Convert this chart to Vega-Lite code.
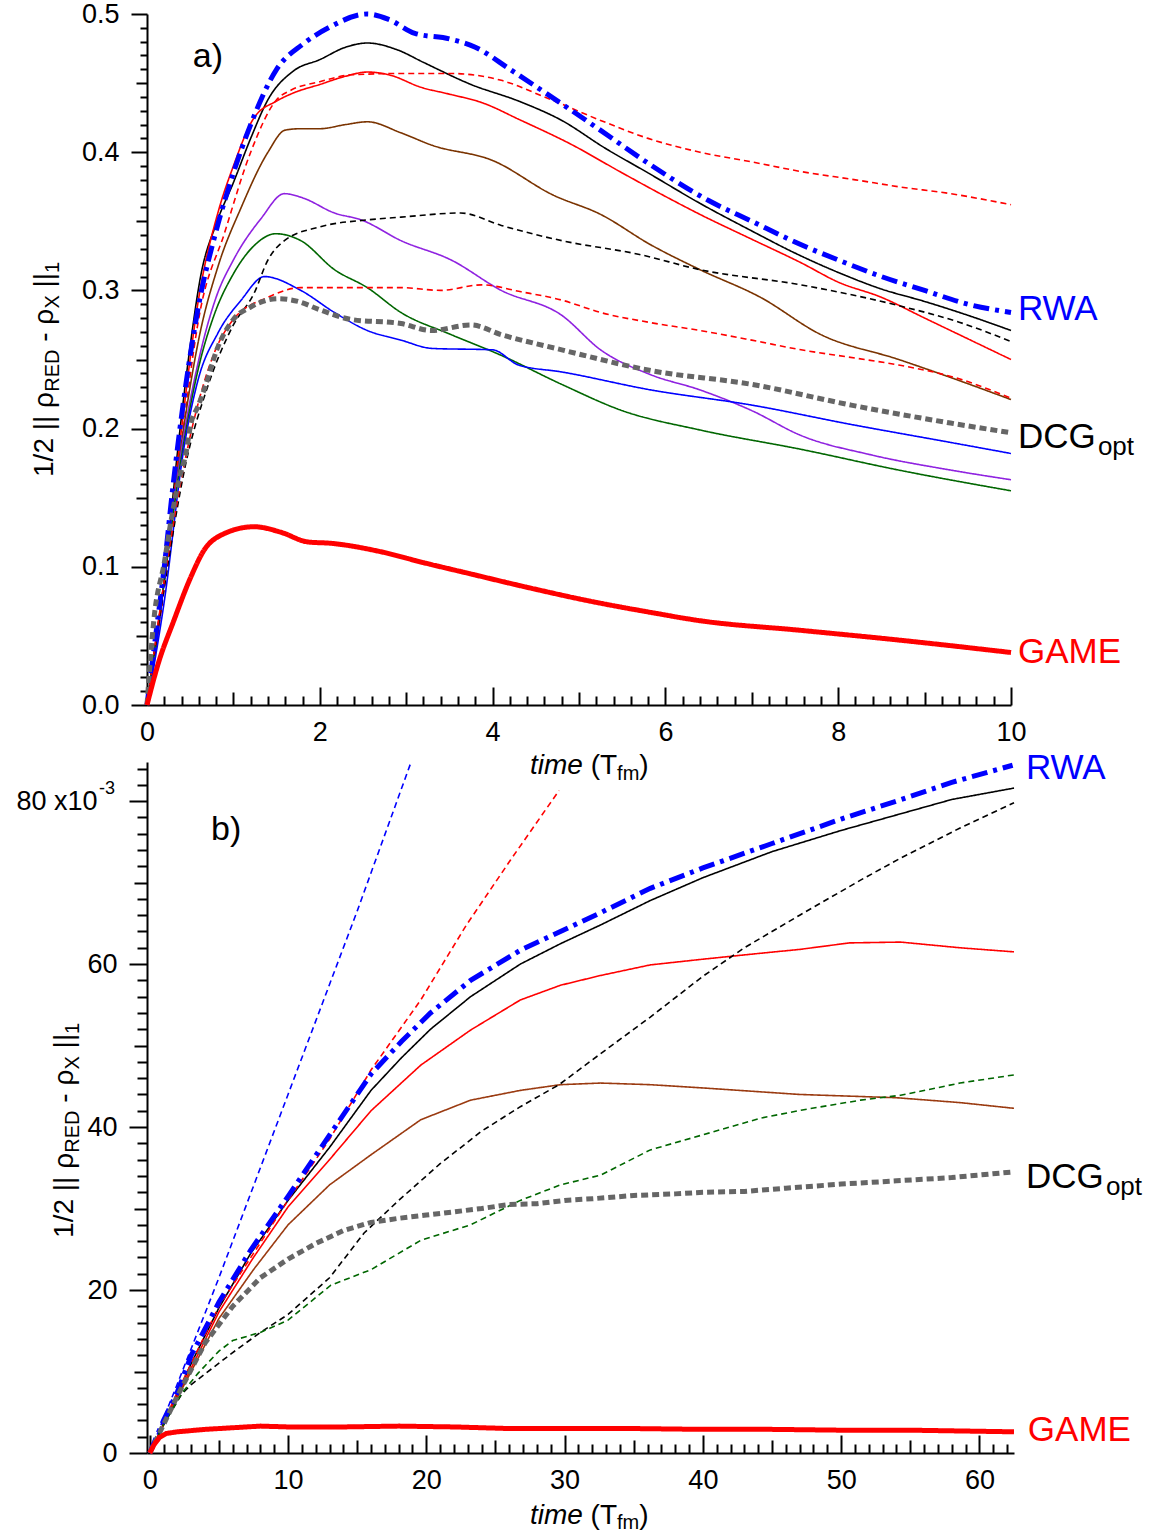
{
"$schema": "https://vega.github.io/schema/vega-lite/v6.json",
"padding": {"left": 15, "top": 0, "right": 5, "bottom": 0},
"config": {
  "font": "Liberation Sans",
  "view": {"stroke": null},
  "axis": {"grid": false, "domainColor": "black", "domainWidth": 2, "tickColor": "black", "tickWidth": 2, "labelColor": "black", "labelFont": "Liberation Sans", "labelFontSize": 27, "labelOverlap": false, "labelFlush": false, "title": null, "tickCount": 200}
},
"spacing": 57,
"bounds": "flush",
"resolve": {"scale": {"color": "independent", "strokeDash": "independent"}},
"datasets": {
"a": [
{"s":"blk","t":0,"v":0},{"s":"blk","t":0.1,"v":0.04},{"s":"blk","t":0.2,"v":0.09},{"s":"blk","t":0.36,"v":0.187},{"s":"blk","t":0.5,"v":0.26},{"s":"blk","t":0.62,"v":0.31},{"s":"blk","t":0.8,"v":0.348},{"s":"blk","t":1.0,"v":0.378},{"s":"blk","t":1.2,"v":0.41},{"s":"blk","t":1.4,"v":0.438},{"s":"blk","t":1.7,"v":0.459},{"s":"blk","t":2.0,"v":0.467},{"s":"blk","t":2.3,"v":0.476},{"s":"blk","t":2.55,"v":0.479},{"s":"blk","t":2.9,"v":0.474},{"s":"blk","t":3.2,"v":0.465},{"s":"blk","t":3.75,"v":0.449},{"s":"blk","t":4.3,"v":0.437},{"s":"blk","t":4.8,"v":0.423},{"s":"blk","t":5.3,"v":0.403},{"s":"blk","t":5.8,"v":0.385},{"s":"blk","t":6.4,"v":0.363},{"s":"blk","t":7.0,"v":0.343},{"s":"blk","t":7.5,"v":0.327},{"s":"blk","t":8.0,"v":0.313},{"s":"blk","t":8.5,"v":0.301},{"s":"blk","t":9.0,"v":0.292},{"s":"blk","t":9.5,"v":0.282},{"s":"blk","t":10,"v":0.271},
{"s":"red","t":0,"v":0},{"s":"red","t":0.1,"v":0.045},{"s":"red","t":0.2,"v":0.09},{"s":"red","t":0.4,"v":0.2},{"s":"red","t":0.6,"v":0.295},{"s":"red","t":0.82,"v":0.356},{"s":"red","t":1.0,"v":0.39},{"s":"red","t":1.24,"v":0.425},{"s":"red","t":1.5,"v":0.437},{"s":"red","t":1.7,"v":0.443},{"s":"red","t":2.0,"v":0.449},{"s":"red","t":2.3,"v":0.455},{"s":"red","t":2.55,"v":0.458},{"s":"red","t":2.8,"v":0.456},{"s":"red","t":3.17,"v":0.447},{"s":"red","t":3.5,"v":0.442},{"s":"red","t":3.87,"v":0.436},{"s":"red","t":4.33,"v":0.423},{"s":"red","t":4.9,"v":0.406},{"s":"red","t":5.5,"v":0.385},{"s":"red","t":6.0,"v":0.368},{"s":"red","t":6.4,"v":0.355},{"s":"red","t":7.0,"v":0.337},{"s":"red","t":7.57,"v":0.32},{"s":"red","t":8.0,"v":0.306},{"s":"red","t":8.5,"v":0.295},{"s":"red","t":9.0,"v":0.28},{"s":"red","t":9.5,"v":0.265},{"s":"red","t":10,"v":0.25},
{"s":"redd1","t":0,"v":0},{"s":"redd1","t":0.2,"v":0.085},{"s":"redd1","t":0.4,"v":0.19},{"s":"redd1","t":0.6,"v":0.28},{"s":"redd1","t":0.9,"v":0.342},{"s":"redd1","t":1.2,"v":0.4},{"s":"redd1","t":1.5,"v":0.438},{"s":"redd1","t":1.67,"v":0.445},{"s":"redd1","t":2.0,"v":0.451},{"s":"redd1","t":2.36,"v":0.456},{"s":"redd1","t":3.0,"v":0.457},{"s":"redd1","t":3.5,"v":0.457},{"s":"redd1","t":4.1,"v":0.452},{"s":"redd1","t":4.6,"v":0.44},{"s":"redd1","t":5.25,"v":0.423},{"s":"redd1","t":5.8,"v":0.41},{"s":"redd1","t":6.4,"v":0.4},{"s":"redd1","t":7.0,"v":0.393},{"s":"redd1","t":7.57,"v":0.386},{"s":"redd1","t":8.2,"v":0.38},{"s":"redd1","t":8.7,"v":0.375},{"s":"redd1","t":9.3,"v":0.37},{"s":"redd1","t":10,"v":0.362},
{"s":"brn","t":0,"v":0},{"s":"brn","t":0.2,"v":0.09},{"s":"brn","t":0.4,"v":0.19},{"s":"brn","t":0.6,"v":0.265},{"s":"brn","t":0.82,"v":0.317},{"s":"brn","t":1.09,"v":0.36},{"s":"brn","t":1.4,"v":0.4},{"s":"brn","t":1.6,"v":0.416},{"s":"brn","t":1.78,"v":0.417},{"s":"brn","t":2.0,"v":0.417},{"s":"brn","t":2.3,"v":0.42},{"s":"brn","t":2.55,"v":0.422},{"s":"brn","t":2.94,"v":0.414},{"s":"brn","t":3.3,"v":0.405},{"s":"brn","t":4.0,"v":0.394},{"s":"brn","t":4.7,"v":0.369},{"s":"brn","t":5.25,"v":0.355},{"s":"brn","t":5.83,"v":0.333},{"s":"brn","t":6.4,"v":0.315},{"s":"brn","t":7.1,"v":0.295},{"s":"brn","t":7.8,"v":0.268},{"s":"brn","t":8.7,"v":0.25},{"s":"brn","t":9.3,"v":0.237},{"s":"brn","t":10,"v":0.221},
{"s":"pur","t":0,"v":0},{"s":"pur","t":0.2,"v":0.09},{"s":"pur","t":0.4,"v":0.185},{"s":"pur","t":0.6,"v":0.25},{"s":"pur","t":0.8,"v":0.295},{"s":"pur","t":1.0,"v":0.322},{"s":"pur","t":1.32,"v":0.352},{"s":"pur","t":1.59,"v":0.37},{"s":"pur","t":1.8,"v":0.367},{"s":"pur","t":2.17,"v":0.356},{"s":"pur","t":2.48,"v":0.351},{"s":"pur","t":2.94,"v":0.336},{"s":"pur","t":3.52,"v":0.322},{"s":"pur","t":4.1,"v":0.3},{"s":"pur","t":4.8,"v":0.282},{"s":"pur","t":5.25,"v":0.257},{"s":"pur","t":5.83,"v":0.239},{"s":"pur","t":6.4,"v":0.228},{"s":"pur","t":7.0,"v":0.213},{"s":"pur","t":7.57,"v":0.195},{"s":"pur","t":8.38,"v":0.181},{"s":"pur","t":9.3,"v":0.17},{"s":"pur","t":10,"v":0.163},
{"s":"grn","t":0,"v":0},{"s":"grn","t":0.2,"v":0.09},{"s":"grn","t":0.4,"v":0.18},{"s":"grn","t":0.6,"v":0.245},{"s":"grn","t":0.77,"v":0.281},{"s":"grn","t":1.0,"v":0.312},{"s":"grn","t":1.25,"v":0.333},{"s":"grn","t":1.49,"v":0.341},{"s":"grn","t":1.78,"v":0.336},{"s":"grn","t":2.17,"v":0.315},{"s":"grn","t":2.55,"v":0.302},{"s":"grn","t":2.94,"v":0.284},{"s":"grn","t":3.52,"v":0.268},{"s":"grn","t":4.1,"v":0.253},{"s":"grn","t":4.8,"v":0.232},{"s":"grn","t":5.5,"v":0.213},{"s":"grn","t":6.4,"v":0.199},{"s":"grn","t":7.57,"v":0.185},{"s":"grn","t":8.7,"v":0.17},{"s":"grn","t":10,"v":0.155},
{"s":"blu","t":0,"v":0},{"s":"blu","t":0.2,"v":0.075},{"s":"blu","t":0.43,"v":0.187},{"s":"blu","t":0.59,"v":0.235},{"s":"blu","t":0.82,"v":0.269},{"s":"blu","t":1.09,"v":0.293},{"s":"blu","t":1.36,"v":0.31},{"s":"blu","t":1.78,"v":0.3},{"s":"blu","t":2.17,"v":0.284},{"s":"blu","t":2.55,"v":0.271},{"s":"blu","t":2.94,"v":0.264},{"s":"blu","t":3.3,"v":0.258},{"s":"blu","t":4.0,"v":0.257},{"s":"blu","t":4.3,"v":0.246},{"s":"blu","t":4.8,"v":0.241},{"s":"blu","t":5.83,"v":0.228},{"s":"blu","t":7.0,"v":0.217},{"s":"blu","t":8.15,"v":0.203},{"s":"blu","t":9.3,"v":0.19},{"s":"blu","t":10,"v":0.182},
{"s":"blkd","t":0,"v":0},{"s":"blkd","t":0.2,"v":0.085},{"s":"blkd","t":0.45,"v":0.175},{"s":"blkd","t":0.7,"v":0.23},{"s":"blkd","t":1.0,"v":0.275},{"s":"blkd","t":1.24,"v":0.298},{"s":"blkd","t":1.4,"v":0.322},{"s":"blkd","t":1.59,"v":0.336},{"s":"blkd","t":2.0,"v":0.346},{"s":"blkd","t":2.55,"v":0.351},{"s":"blkd","t":2.94,"v":0.353},{"s":"blkd","t":3.63,"v":0.356},{"s":"blkd","t":4.1,"v":0.347},{"s":"blkd","t":4.8,"v":0.336},{"s":"blkd","t":5.7,"v":0.326},{"s":"blkd","t":6.4,"v":0.315},{"s":"blkd","t":7.57,"v":0.304},{"s":"blkd","t":8.7,"v":0.289},{"s":"blkd","t":9.4,"v":0.277},{"s":"blkd","t":10,"v":0.263},
{"s":"redd2","t":0,"v":0},{"s":"redd2","t":0.2,"v":0.09},{"s":"redd2","t":0.45,"v":0.18},{"s":"redd2","t":0.78,"v":0.255},{"s":"redd2","t":1.0,"v":0.279},{"s":"redd2","t":1.4,"v":0.295},{"s":"redd2","t":1.78,"v":0.302},{"s":"redd2","t":2.2,"v":0.302},{"s":"redd2","t":2.55,"v":0.302},{"s":"redd2","t":2.94,"v":0.302},{"s":"redd2","t":3.4,"v":0.3},{"s":"redd2","t":3.87,"v":0.304},{"s":"redd2","t":4.33,"v":0.299},{"s":"redd2","t":4.8,"v":0.293},{"s":"redd2","t":5.25,"v":0.284},{"s":"redd2","t":5.8,"v":0.277},{"s":"redd2","t":6.4,"v":0.271},{"s":"redd2","t":7.0,"v":0.264},{"s":"redd2","t":7.57,"v":0.257},{"s":"redd2","t":8.2,"v":0.251},{"s":"redd2","t":8.7,"v":0.246},{"s":"redd2","t":9.4,"v":0.236},{"s":"redd2","t":10,"v":0.222},
{"s":"rwa","t":0,"v":0},{"s":"rwa","t":0.1,"v":0.05},{"s":"rwa","t":0.2,"v":0.1},{"s":"rwa","t":0.3,"v":0.158},{"s":"rwa","t":0.45,"v":0.232},{"s":"rwa","t":0.6,"v":0.29},{"s":"rwa","t":0.8,"v":0.343},{"s":"rwa","t":1.0,"v":0.385},{"s":"rwa","t":1.2,"v":0.42},{"s":"rwa","t":1.5,"v":0.46},{"s":"rwa","t":1.8,"v":0.478},{"s":"rwa","t":2.1,"v":0.49},{"s":"rwa","t":2.55,"v":0.5},{"s":"rwa","t":2.8,"v":0.496},{"s":"rwa","t":3.1,"v":0.486},{"s":"rwa","t":3.5,"v":0.482},{"s":"rwa","t":3.8,"v":0.476},{"s":"rwa","t":4.2,"v":0.46},{"s":"rwa","t":4.8,"v":0.435},{"s":"rwa","t":5.2,"v":0.418},{"s":"rwa","t":5.8,"v":0.392},{"s":"rwa","t":6.5,"v":0.365},{"s":"rwa","t":7.0,"v":0.35},{"s":"rwa","t":7.5,"v":0.335},{"s":"rwa","t":8.0,"v":0.322},{"s":"rwa","t":8.5,"v":0.31},{"s":"rwa","t":9.0,"v":0.3},{"s":"rwa","t":9.5,"v":0.29},{"s":"rwa","t":10,"v":0.284},
{"s":"dcg","t":0,"v":0},{"s":"dcg","t":0.08,"v":0.062},{"s":"dcg","t":0.2,"v":0.103},{"s":"dcg","t":0.28,"v":0.134},{"s":"dcg","t":0.37,"v":0.163},{"s":"dcg","t":0.45,"v":0.182},{"s":"dcg","t":0.51,"v":0.204},{"s":"dcg","t":0.59,"v":0.216},{"s":"dcg","t":0.66,"v":0.228},{"s":"dcg","t":0.82,"v":0.259},{"s":"dcg","t":1.0,"v":0.279},{"s":"dcg","t":1.2,"v":0.288},{"s":"dcg","t":1.52,"v":0.294},{"s":"dcg","t":1.75,"v":0.292},{"s":"dcg","t":2.0,"v":0.286},{"s":"dcg","t":2.36,"v":0.279},{"s":"dcg","t":2.94,"v":0.276},{"s":"dcg","t":3.29,"v":0.271},{"s":"dcg","t":3.75,"v":0.275},{"s":"dcg","t":4.1,"v":0.268},{"s":"dcg","t":4.8,"v":0.257},{"s":"dcg","t":5.83,"v":0.242},{"s":"dcg","t":7.0,"v":0.232},{"s":"dcg","t":8.15,"v":0.217},{"s":"dcg","t":9.3,"v":0.204},{"s":"dcg","t":10,"v":0.197},
{"s":"game","t":0,"v":0},{"s":"game","t":0.13,"v":0.03},{"s":"game","t":0.31,"v":0.061},{"s":"game","t":0.51,"v":0.093},{"s":"game","t":0.66,"v":0.112},{"s":"game","t":0.86,"v":0.123},{"s":"game","t":1.24,"v":0.129},{"s":"game","t":1.55,"v":0.125},{"s":"game","t":1.86,"v":0.118},{"s":"game","t":2.13,"v":0.117},{"s":"game","t":2.7,"v":0.111},{"s":"game","t":3.2,"v":0.103},{"s":"game","t":3.67,"v":0.096},{"s":"game","t":4.41,"v":0.085},{"s":"game","t":5.14,"v":0.075},{"s":"game","t":5.83,"v":0.067},{"s":"game","t":6.4,"v":0.061},{"s":"game","t":7.57,"v":0.054},{"s":"game","t":8.7,"v":0.047},{"s":"game","t":10,"v":0.038}
],
"b": [
{"s":"blk","t":0,"v":0},{"s":"blk","t":1,"v":3.5},{"s":"blk","t":3,"v":11},{"s":"blk","t":5,"v":17.8},{"s":"blk","t":7.3,"v":24.5},{"s":"blk","t":10,"v":31},{"s":"blk","t":13,"v":37.5},{"s":"blk","t":16,"v":44.5},{"s":"blk","t":18.2,"v":48.5},{"s":"blk","t":20.3,"v":52},{"s":"blk","t":23.2,"v":56},{"s":"blk","t":26.8,"v":60},{"s":"blk","t":29.7,"v":62.5},{"s":"blk","t":32.6,"v":64.8},{"s":"blk","t":36.2,"v":67.8},{"s":"blk","t":40,"v":70.6},{"s":"blk","t":45,"v":73.8},{"s":"blk","t":50,"v":76.4},{"s":"blk","t":54,"v":78.3},{"s":"blk","t":58,"v":80.2},{"s":"blk","t":62.5,"v":81.6},
{"s":"red","t":0,"v":0},{"s":"red","t":2,"v":7},{"s":"red","t":5,"v":17.3},{"s":"red","t":7.5,"v":24},{"s":"red","t":10,"v":30.2},{"s":"red","t":13,"v":36},{"s":"red","t":16,"v":42},{"s":"red","t":19.6,"v":47.6},{"s":"red","t":23.2,"v":51.9},{"s":"red","t":26.8,"v":55.6},{"s":"red","t":29.7,"v":57.4},{"s":"red","t":32.6,"v":58.6},{"s":"red","t":36.2,"v":59.9},{"s":"red","t":40,"v":60.6},{"s":"red","t":44,"v":61.3},{"s":"red","t":47,"v":61.8},{"s":"red","t":50.6,"v":62.6},{"s":"red","t":54.3,"v":62.7},{"s":"red","t":58.6,"v":62.0},{"s":"red","t":62.5,"v":61.5},
{"s":"brn","t":0,"v":0},{"s":"brn","t":2,"v":6.8},{"s":"brn","t":5,"v":16.5},{"s":"brn","t":7.5,"v":22.5},{"s":"brn","t":10,"v":28},{"s":"brn","t":13,"v":32.9},{"s":"brn","t":16,"v":36.6},{"s":"brn","t":19.6,"v":40.9},{"s":"brn","t":23.2,"v":43.3},{"s":"brn","t":26.8,"v":44.5},{"s":"brn","t":29.7,"v":45.2},{"s":"brn","t":32.6,"v":45.4},{"s":"brn","t":36.2,"v":45.2},{"s":"brn","t":40,"v":44.8},{"s":"brn","t":47,"v":44},{"s":"brn","t":54,"v":43.6},{"s":"brn","t":58.6,"v":43},{"s":"brn","t":62.5,"v":42.3},
{"s":"redd","t":0,"v":0},{"s":"redd","t":2,"v":7.5},{"s":"redd","t":5,"v":18},{"s":"redd","t":7.5,"v":24.5},{"s":"redd","t":10,"v":31},{"s":"redd","t":13,"v":38.5},{"s":"redd","t":16,"v":47},{"s":"redd","t":19.6,"v":55.6},{"s":"redd","t":22.9,"v":64.8},{"s":"redd","t":26.1,"v":72.8},{"s":"redd","t":29.6,"v":81.3},
{"s":"blud","t":0,"v":0},{"s":"blud","t":2,"v":8.5},{"s":"blud","t":5,"v":21.5},{"s":"blud","t":8,"v":35},{"s":"blud","t":10,"v":44},{"s":"blud","t":12,"v":53},{"s":"blud","t":15,"v":66.5},{"s":"blud","t":18.9,"v":84.8},
{"s":"blkd","t":0,"v":0},{"s":"blkd","t":1,"v":3.5},{"s":"blkd","t":2.3,"v":7.2},{"s":"blkd","t":3,"v":8.4},{"s":"blkd","t":5.9,"v":12.2},{"s":"blkd","t":8,"v":14.8},{"s":"blkd","t":10,"v":17},{"s":"blkd","t":13,"v":21.5},{"s":"blkd","t":15.5,"v":27},{"s":"blkd","t":18,"v":31},{"s":"blkd","t":21,"v":35.5},{"s":"blkd","t":24,"v":39.5},{"s":"blkd","t":26.8,"v":42.5},{"s":"blkd","t":29.6,"v":45.2},{"s":"blkd","t":32.6,"v":49},{"s":"blkd","t":36.2,"v":53.5},{"s":"blkd","t":40,"v":58.5},{"s":"blkd","t":43,"v":62},{"s":"blkd","t":47,"v":66},{"s":"blkd","t":51.4,"v":70.3},{"s":"blkd","t":54.3,"v":73},{"s":"blkd","t":58.6,"v":76.7},{"s":"blkd","t":62.5,"v":79.8},
{"s":"grnd","t":0,"v":0},{"s":"grnd","t":1,"v":3.5},{"s":"grnd","t":2.3,"v":7.3},{"s":"grnd","t":3.5,"v":9.8},{"s":"grnd","t":5,"v":12.5},{"s":"grnd","t":6,"v":13.8},{"s":"grnd","t":8,"v":14.8},{"s":"grnd","t":10,"v":16.3},{"s":"grnd","t":13.1,"v":20.6},{"s":"grnd","t":16,"v":22.5},{"s":"grnd","t":19.6,"v":26.1},{"s":"grnd","t":23.2,"v":28},{"s":"grnd","t":26.8,"v":31},{"s":"grnd","t":29.7,"v":32.9},{"s":"grnd","t":32.6,"v":34.1},{"s":"grnd","t":36.2,"v":37.2},{"s":"grnd","t":39.9,"v":39},{"s":"grnd","t":44.2,"v":41.1},{"s":"grnd","t":47.2,"v":42.1},{"s":"grnd","t":51.4,"v":43.3},{"s":"grnd","t":54.3,"v":43.9},{"s":"grnd","t":58.6,"v":45.4},{"s":"grnd","t":62.5,"v":46.4},
{"s":"rwa","t":0,"v":0},{"s":"rwa","t":1,"v":4},{"s":"rwa","t":2,"v":7.5},{"s":"rwa","t":3,"v":12},{"s":"rwa","t":5,"v":18.5},{"s":"rwa","t":7.3,"v":24.9},{"s":"rwa","t":10,"v":31.5},{"s":"rwa","t":13,"v":39},{"s":"rwa","t":16,"v":46.5},{"s":"rwa","t":18.2,"v":50.5},{"s":"rwa","t":20.3,"v":54},{"s":"rwa","t":23.2,"v":58},{"s":"rwa","t":26.8,"v":61.7},{"s":"rwa","t":29.7,"v":64},{"s":"rwa","t":32.6,"v":66.3},{"s":"rwa","t":36.2,"v":69.3},{"s":"rwa","t":40,"v":71.8},{"s":"rwa","t":45,"v":74.8},{"s":"rwa","t":50,"v":77.8},{"s":"rwa","t":54,"v":80},{"s":"rwa","t":58,"v":82.3},{"s":"rwa","t":62.4,"v":84.4},
{"s":"dcg","t":0,"v":0},{"s":"dcg","t":2,"v":7},{"s":"dcg","t":4,"v":13.5},{"s":"dcg","t":6,"v":18},{"s":"dcg","t":8,"v":21.5},{"s":"dcg","t":10,"v":23.8},{"s":"dcg","t":12,"v":25.7},{"s":"dcg","t":14,"v":27.3},{"s":"dcg","t":16,"v":28.3},{"s":"dcg","t":18,"v":28.8},{"s":"dcg","t":20,"v":29.2},{"s":"dcg","t":22,"v":29.6},{"s":"dcg","t":24,"v":30},{"s":"dcg","t":26,"v":30.5},{"s":"dcg","t":28,"v":30.6},{"s":"dcg","t":30,"v":31},{"s":"dcg","t":32,"v":31.2},{"s":"dcg","t":35,"v":31.6},{"s":"dcg","t":38,"v":31.8},{"s":"dcg","t":40,"v":32},{"s":"dcg","t":43,"v":32.1},{"s":"dcg","t":46,"v":32.5},{"s":"dcg","t":50,"v":33},{"s":"dcg","t":54,"v":33.4},{"s":"dcg","t":58,"v":33.8},{"s":"dcg","t":62.5,"v":34.5},
{"s":"game","t":0,"v":0},{"s":"game","t":0.3,"v":1.0},{"s":"game","t":0.7,"v":1.9},{"s":"game","t":1.2,"v":2.4},{"s":"game","t":2,"v":2.6},{"s":"game","t":4,"v":2.9},{"s":"game","t":6,"v":3.1},{"s":"game","t":8,"v":3.3},{"s":"game","t":10,"v":3.2},{"s":"game","t":14,"v":3.2},{"s":"game","t":18,"v":3.3},{"s":"game","t":22,"v":3.2},{"s":"game","t":26,"v":3.0},{"s":"game","t":30,"v":3.0},{"s":"game","t":35,"v":3.0},{"s":"game","t":40,"v":2.9},{"s":"game","t":45,"v":2.9},{"s":"game","t":50,"v":2.8},{"s":"game","t":55,"v":2.8},{"s":"game","t":62.5,"v":2.6}
]
},
"vconcat": [
{
  "width": 864, "height": 691,
  "layer": [
    {
      "data": {"name": "a"},
      "transform": [{"filter": {"not": {"field": "s", "oneOf": ["rwa", "dcg", "game"]}}}],
      "mark": {"type": "line", "interpolate": "monotone", "strokeWidth": 1.6},
      "encoding": {
        "x": {"field": "t", "type": "quantitative", "scale": {"domain": [0, 10], "nice": false, "zero": false},
          "axis": {"orient": "bottom", "tickCount": 200, "values": [0,0.2,0.4,0.6,0.8,1,1.2,1.4,1.6,1.8,2,2.2,2.4,2.6,2.8,3,3.2,3.4,3.6,3.8,4,4.2,4.4,4.6,4.8,5,5.2,5.4,5.6,5.8,6,6.2,6.4,6.6,6.8,7,7.2,7.4,7.6,7.8,8,8.2,8.4,8.6,8.8,9,9.2,9.4,9.6,9.8,10],
            "labelExpr": "datum.value % 2 == 0 ? '' + datum.value : ''",
            "tickSize": {"condition": [{"test": "datum.value % 2 == 0", "value": -18}, {"test": "datum.value % 1 == 0", "value": -13}], "value": -9},
            "labelPadding": 32}},
        "y": {"field": "v", "type": "quantitative", "scale": {"domain": [0, 0.5], "nice": false},
          "axis": {"orient": "left", "tickCount": 200, "values": [0,0.01,0.02,0.03,0.04,0.05,0.06,0.07,0.08,0.09,0.1,0.11,0.12,0.13,0.14,0.15,0.16,0.17,0.18,0.19,0.2,0.21,0.22,0.23,0.24,0.25,0.26,0.27,0.28,0.29,0.3,0.31,0.32,0.33,0.34,0.35,0.36,0.37,0.38,0.39,0.4,0.41,0.42,0.43,0.44,0.45,0.46,0.47,0.48,0.49,0.5],
            "format": ".1f",
            "labelExpr": "abs(datum.value*10 - round(datum.value*10)) < 1e-6 ? datum.label : ''",
            "tickSize": {"condition": [{"test": "abs(datum.value*10 - round(datum.value*10)) < 1e-6", "value": 16}, {"test": "abs(datum.value*20 - round(datum.value*20)) < 1e-6", "value": 11}], "value": 7},
            "labelPadding": 12}},
        "color": {"field": "s", "type": "nominal", "legend": null,
          "scale": {"domain": ["blk","red","redd1","brn","pur","grn","blu","blkd","redd2","rwa","dcg","game"],
                    "range": ["#000000","#ff0000","#ff0000","#7a3300","#8f22e0","#006600","#0000ff","#000000","#ff0000","#0000ff","#666666","#ff0000"]}},
        "strokeDash": {"field": "s", "type": "nominal", "legend": null,
          "scale": {"domain": ["blk","red","redd1","brn","pur","grn","blu","blkd","redd2","rwa","dcg","game"],
                    "range": [[1,0],[1,0],[6,4],[1,0],[1,0],[1,0],[1,0],[6,4],[6,4],[16,6,4,6],[7,4],[1,0]]}}
      }
    },
    {
      "data": {"name": "a"},
      "transform": [{"filter": {"field": "s", "oneOf": ["rwa", "dcg", "game"]}}],
      "mark": {"type": "line", "interpolate": "monotone", "strokeWidth": 5},
      "encoding": {
        "x": {"field": "t", "type": "quantitative"},
        "y": {"field": "v", "type": "quantitative"},
        "color": {"field": "s", "type": "nominal", "legend": null},
        "strokeDash": {"field": "s", "type": "nominal", "legend": null}
      }
    },
    {"data": {"values": [{}]}, "mark": {"type": "text", "text": "a)", "fontSize": 34, "align": "left", "baseline": "alphabetic", "color": "black"},
     "encoding": {"x": {"datum": 0.53, "type": "quantitative"}, "y": {"datum": 0.4617, "type": "quantitative"}}},
    {"data": {"values": [{}]}, "mark": {"type": "text", "text": "RWA", "fontSize": 35, "align": "left", "baseline": "alphabetic", "color": "#0000ff"},
     "encoding": {"x": {"datum": 10.08, "type": "quantitative"}, "y": {"datum": 0.2786, "type": "quantitative"}}},
    {"data": {"values": [{}]}, "mark": {"type": "text", "text": "DCG", "fontSize": 35, "align": "left", "baseline": "alphabetic", "color": "black"},
     "encoding": {"x": {"datum": 10.08, "type": "quantitative"}, "y": {"datum": 0.186, "type": "quantitative"}}},
    {"data": {"values": [{}]}, "mark": {"type": "text", "text": "opt", "fontSize": 26, "align": "left", "baseline": "alphabetic", "color": "black", "dx": 80, "dy": 7},
     "encoding": {"x": {"datum": 10.08, "type": "quantitative"}, "y": {"datum": 0.186, "type": "quantitative"}}},
    {"data": {"values": [{}]}, "mark": {"type": "text", "text": "GAME", "fontSize": 35, "align": "left", "baseline": "alphabetic", "color": "#ff0000"},
     "encoding": {"x": {"datum": 10.08, "type": "quantitative"}, "y": {"datum": 0.0304, "type": "quantitative"}}},
    {"data": {"values": [{}]}, "mark": {"type": "text", "text": "1/2 || ρ", "fontSize": 28, "angle": 270, "align": "left", "baseline": "alphabetic", "color": "black"},
     "encoding": {"x": {"datum": -1.088, "type": "quantitative"}, "y": {"datum": 0.165, "type": "quantitative"}}},
    {"data": {"values": [{}]}, "mark": {"type": "text", "text": "RED", "fontSize": 20, "angle": 270, "align": "left", "baseline": "alphabetic", "color": "black", "dx": 85.2, "dy": 6},
     "encoding": {"x": {"datum": -1.088, "type": "quantitative"}, "y": {"datum": 0.165, "type": "quantitative"}}},
    {"data": {"values": [{}]}, "mark": {"type": "text", "text": "- ρ", "fontSize": 28, "angle": 270, "align": "left", "baseline": "alphabetic", "color": "black", "dx": 135.2},
     "encoding": {"x": {"datum": -1.088, "type": "quantitative"}, "y": {"datum": 0.165, "type": "quantitative"}}},
    {"data": {"values": [{}]}, "mark": {"type": "text", "text": "X", "fontSize": 20, "angle": 270, "align": "left", "baseline": "alphabetic", "color": "black", "dx": 168.4, "dy": 6},
     "encoding": {"x": {"datum": -1.088, "type": "quantitative"}, "y": {"datum": 0.165, "type": "quantitative"}}},
    {"data": {"values": [{}]}, "mark": {"type": "text", "text": "||", "fontSize": 28, "angle": 270, "align": "left", "baseline": "alphabetic", "color": "black", "dx": 189.5},
     "encoding": {"x": {"datum": -1.088, "type": "quantitative"}, "y": {"datum": 0.165, "type": "quantitative"}}},
    {"data": {"values": [{}]}, "mark": {"type": "text", "text": "1", "fontSize": 20, "angle": 270, "align": "left", "baseline": "alphabetic", "color": "black", "dx": 204, "dy": 6},
     "encoding": {"x": {"datum": -1.088, "type": "quantitative"}, "y": {"datum": 0.165, "type": "quantitative"}}},
    {"data": {"values": [{}]}, "mark": {"type": "text", "text": "time", "fontSize": 28, "fontStyle": "italic", "align": "left", "baseline": "alphabetic", "color": "black"},
     "encoding": {"x": {"datum": 4.433, "type": "quantitative"}, "y": {"datum": -0.0499, "type": "quantitative"}}},
    {"data": {"values": [{}]}, "mark": {"type": "text", "text": "(T", "fontSize": 28, "align": "left", "baseline": "alphabetic", "color": "black", "dx": 60.7},
     "encoding": {"x": {"datum": 4.433, "type": "quantitative"}, "y": {"datum": -0.0499, "type": "quantitative"}}},
    {"data": {"values": [{}]}, "mark": {"type": "text", "text": "fm", "fontSize": 20, "align": "left", "baseline": "alphabetic", "color": "black", "dx": 87.1, "dy": 6},
     "encoding": {"x": {"datum": 4.433, "type": "quantitative"}, "y": {"datum": -0.0499, "type": "quantitative"}}},
    {"data": {"values": [{}]}, "mark": {"type": "text", "text": ")", "fontSize": 28, "align": "left", "baseline": "alphabetic", "color": "black", "dx": 109.3},
     "encoding": {"x": {"datum": 4.433, "type": "quantitative"}, "y": {"datum": -0.0499, "type": "quantitative"}}}
  ]
},
{
  "width": 867, "height": 691,
  "layer": [
    {
      "data": {"name": "b"},
      "transform": [{"filter": {"not": {"field": "s", "oneOf": ["rwa", "dcg", "game"]}}}],
      "mark": {"type": "line", "strokeWidth": 1.6},
      "encoding": {
        "x": {"field": "t", "type": "quantitative", "scale": {"domain": [-0.2, 62.5], "nice": false, "zero": false},
          "axis": {"orient": "bottom", "tickCount": 200, "values": [0,1,2,3,4,5,6,7,8,9,10,11,12,13,14,15,16,17,18,19,20,21,22,23,24,25,26,27,28,29,30,31,32,33,34,35,36,37,38,39,40,41,42,43,44,45,46,47,48,49,50,51,52,53,54,55,56,57,58,59,60,61,62],
            "labelExpr": "datum.value % 10 == 0 ? '' + datum.value : ''",
            "tickSize": {"condition": [{"test": "datum.value % 10 == 0", "value": -18}, {"test": "datum.value % 5 == 0", "value": -13}], "value": -9},
            "labelPadding": 32}},
        "y": {"field": "v", "type": "quantitative", "scale": {"domain": [0, 84.8], "nice": false},
          "axis": {"orient": "left", "tickCount": 200, "values": [0,2,4,6,8,10,12,14,16,18,20,22,24,26,28,30,32,34,36,38,40,42,44,46,48,50,52,54,56,58,60,62,64,66,68,70,72,74,76,78,80,82,84],
            "labelExpr": "datum.value % 20 == 0 ? (datum.value == 80 ? '80 x10' : '' + datum.value) : ''",
            "tickSize": {"condition": [{"test": "datum.value % 20 == 0", "value": 18}, {"test": "datum.value % 10 == 0", "value": 13}], "value": 10},
            "labelPadding": {"condition": {"test": "datum.value == 80", "value": 32}, "value": 12}}},
        "color": {"field": "s", "type": "nominal", "legend": null,
          "scale": {"domain": ["blk","red","redd","brn","blud","blkd","grnd","rwa","dcg","game"],
                    "range": ["#000000","#ff0000","#ff0000","#9a3a10","#0000ff","#000000","#006600","#0000ff","#666666","#ff0000"]}},
        "strokeDash": {"field": "s", "type": "nominal", "legend": null,
          "scale": {"domain": ["blk","red","redd","brn","blud","blkd","grnd","rwa","dcg","game"],
                    "range": [[1,0],[1,0],[6,4],[1,0],[6,4],[6,4],[6,4],[16,6,4,6],[7,4],[1,0]]}}
      }
    },
    {
      "data": {"name": "b"},
      "transform": [{"filter": {"field": "s", "oneOf": ["rwa", "dcg", "game"]}}],
      "mark": {"type": "line", "strokeWidth": 5},
      "encoding": {
        "x": {"field": "t", "type": "quantitative"},
        "y": {"field": "v", "type": "quantitative"},
        "color": {"field": "s", "type": "nominal", "legend": null},
        "strokeDash": {"field": "s", "type": "nominal", "legend": null}
      }
    },
    {"data": {"values": [{}]}, "mark": {"type": "text", "text": "-3", "fontSize": 18, "align": "left", "baseline": "alphabetic", "color": "black", "dy": -7},
     "encoding": {"x": {"datum": -3.67, "type": "quantitative"}, "y": {"datum": 80, "type": "quantitative"}}},
    {"data": {"values": [{}]}, "mark": {"type": "text", "text": "b)", "fontSize": 34, "align": "left", "baseline": "alphabetic", "color": "black"},
     "encoding": {"x": {"datum": 4.43, "type": "quantitative"}, "y": {"datum": 75.2, "type": "quantitative"}}},
    {"data": {"values": [{}]}, "mark": {"type": "text", "text": "RWA", "fontSize": 35, "align": "left", "baseline": "alphabetic", "color": "#0000ff"},
     "encoding": {"x": {"datum": 63.36, "type": "quantitative"}, "y": {"datum": 82.7, "type": "quantitative"}}},
    {"data": {"values": [{}]}, "mark": {"type": "text", "text": "DCG", "fontSize": 35, "align": "left", "baseline": "alphabetic", "color": "black"},
     "encoding": {"x": {"datum": 63.36, "type": "quantitative"}, "y": {"datum": 32.5, "type": "quantitative"}}},
    {"data": {"values": [{}]}, "mark": {"type": "text", "text": "opt", "fontSize": 26, "align": "left", "baseline": "alphabetic", "color": "black", "dx": 80, "dy": 7},
     "encoding": {"x": {"datum": 63.36, "type": "quantitative"}, "y": {"datum": 32.5, "type": "quantitative"}}},
    {"data": {"values": [{}]}, "mark": {"type": "text", "text": "GAME", "fontSize": 35, "align": "left", "baseline": "alphabetic", "color": "#ff0000"},
     "encoding": {"x": {"datum": 63.5, "type": "quantitative"}, "y": {"datum": 1.47, "type": "quantitative"}}},
    {"data": {"values": [{}]}, "mark": {"type": "text", "text": "1/2 || ρ", "fontSize": 28, "angle": 270, "align": "left", "baseline": "alphabetic", "color": "black"},
     "encoding": {"x": {"datum": -5.55, "type": "quantitative"}, "y": {"datum": 26.4, "type": "quantitative"}}},
    {"data": {"values": [{}]}, "mark": {"type": "text", "text": "RED", "fontSize": 20, "angle": 270, "align": "left", "baseline": "alphabetic", "color": "black", "dx": 85.2, "dy": 6},
     "encoding": {"x": {"datum": -5.55, "type": "quantitative"}, "y": {"datum": 26.4, "type": "quantitative"}}},
    {"data": {"values": [{}]}, "mark": {"type": "text", "text": "- ρ", "fontSize": 28, "angle": 270, "align": "left", "baseline": "alphabetic", "color": "black", "dx": 135.2},
     "encoding": {"x": {"datum": -5.55, "type": "quantitative"}, "y": {"datum": 26.4, "type": "quantitative"}}},
    {"data": {"values": [{}]}, "mark": {"type": "text", "text": "X", "fontSize": 20, "angle": 270, "align": "left", "baseline": "alphabetic", "color": "black", "dx": 168.4, "dy": 6},
     "encoding": {"x": {"datum": -5.55, "type": "quantitative"}, "y": {"datum": 26.4, "type": "quantitative"}}},
    {"data": {"values": [{}]}, "mark": {"type": "text", "text": "||", "fontSize": 28, "angle": 270, "align": "left", "baseline": "alphabetic", "color": "black", "dx": 189.5},
     "encoding": {"x": {"datum": -5.55, "type": "quantitative"}, "y": {"datum": 26.4, "type": "quantitative"}}},
    {"data": {"values": [{}]}, "mark": {"type": "text", "text": "1", "fontSize": 20, "angle": 270, "align": "left", "baseline": "alphabetic", "color": "black", "dx": 204, "dy": 6},
     "encoding": {"x": {"datum": -5.55, "type": "quantitative"}, "y": {"datum": 26.4, "type": "quantitative"}}},
    {"data": {"values": [{}]}, "mark": {"type": "text", "text": "time", "fontSize": 28, "fontStyle": "italic", "align": "left", "baseline": "alphabetic", "color": "black"},
     "encoding": {"x": {"datum": 27.49, "type": "quantitative"}, "y": {"datum": -8.7, "type": "quantitative"}}},
    {"data": {"values": [{}]}, "mark": {"type": "text", "text": "(T", "fontSize": 28, "align": "left", "baseline": "alphabetic", "color": "black", "dx": 60.7},
     "encoding": {"x": {"datum": 27.49, "type": "quantitative"}, "y": {"datum": -8.7, "type": "quantitative"}}},
    {"data": {"values": [{}]}, "mark": {"type": "text", "text": "fm", "fontSize": 20, "align": "left", "baseline": "alphabetic", "color": "black", "dx": 87.1, "dy": 5},
     "encoding": {"x": {"datum": 27.49, "type": "quantitative"}, "y": {"datum": -8.7, "type": "quantitative"}}},
    {"data": {"values": [{}]}, "mark": {"type": "text", "text": ")", "fontSize": 28, "align": "left", "baseline": "alphabetic", "color": "black", "dx": 109.3},
     "encoding": {"x": {"datum": 27.49, "type": "quantitative"}, "y": {"datum": -8.7, "type": "quantitative"}}}
  ]
}
]
}
